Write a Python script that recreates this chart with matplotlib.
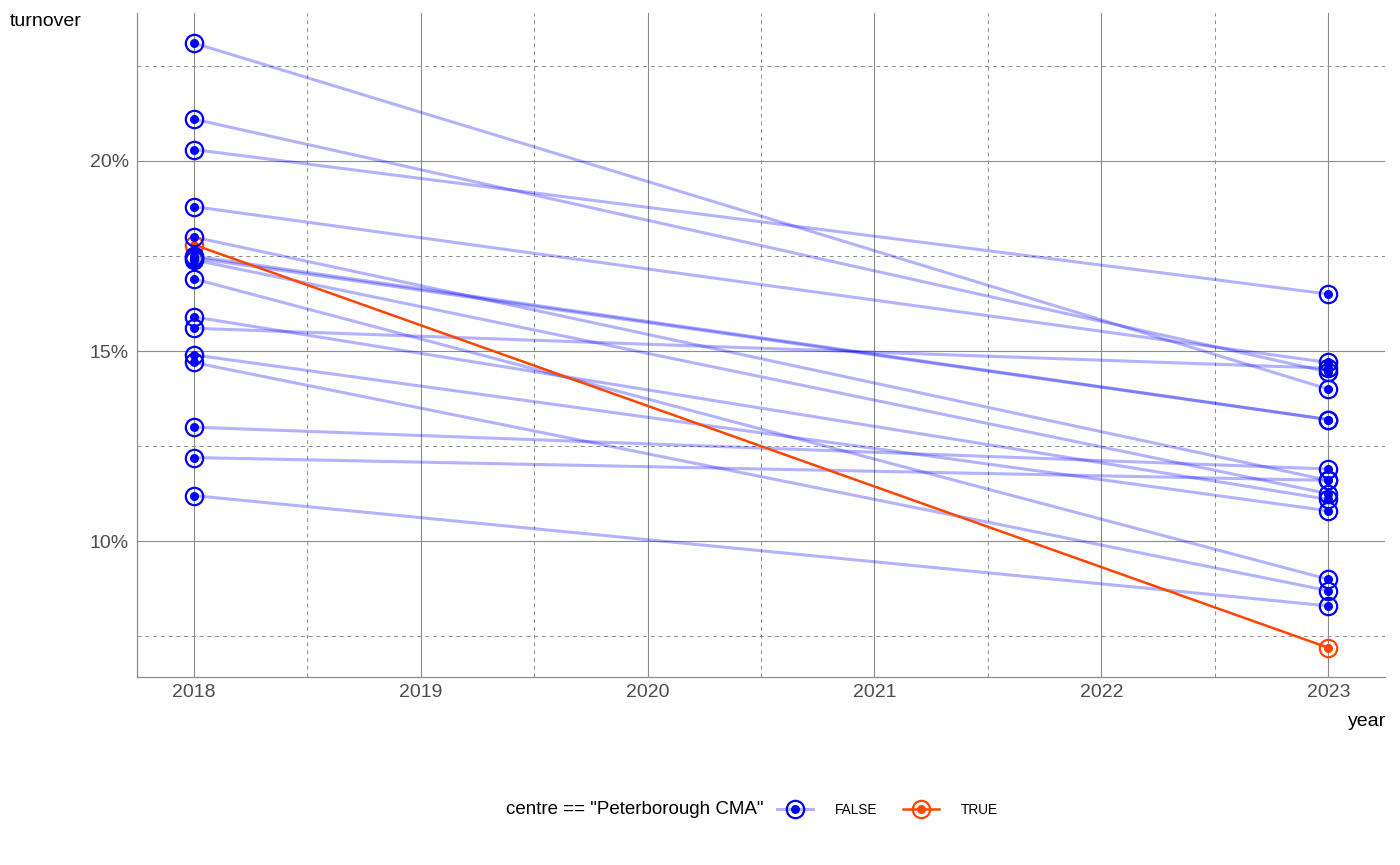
import matplotlib
matplotlib.use("Agg")
import matplotlib.pyplot as plt
from matplotlib.lines import Line2D
from matplotlib.ticker import FuncFormatter

plt.rcParams['font.family'] = ['Liberation Sans', 'DejaVu Sans']

# ---- data ----
years = [2018, 2023]
turnover_2018 = [23.1, 21.1, 20.3, 18.8, 18.0, 17.5, 17.45, 17.4, 16.9, 15.9, 15.6, 14.9, 14.7, 13.0, 12.2, 11.2]
turnover_2023 = [14.0, 14.45, 16.5, 14.7, 11.6, 13.2, 13.2, 11.25, 9.0, 11.1, 14.55, 10.8, 8.7, 11.9, 11.6, 8.3]
peterborough_2018 = 17.8
peterborough_2023 = 7.2
legend_title = 'centre == "Peterborough CMA"'
legend_labels = ['FALSE', 'TRUE']
y_major = [10, 15, 20]
y_minor = [7.5, 12.5, 17.5, 22.5]
x_major = [2018, 2019, 2020, 2021, 2022, 2023]
x_minor = [2018.5, 2019.5, 2020.5, 2021.5, 2022.5]

blue = '#0000FF'
red = '#FF4500'
grid_col = '#8C8C8C'
OUT_MS, OUT_MEW, IN_MS = 12.5, 1.6, 6.5

fig = plt.figure(figsize=(14, 8.65), dpi=100)
ax = fig.add_axes([137/1400, 1-677/865, (1385-137)/1400, (677-13)/865])

# grid
for v in y_major:
    ax.axhline(v, color=grid_col, lw=0.8, zorder=0)
for v in y_minor:
    ax.axhline(v, color=grid_col, lw=0.7, ls=(0, (4, 4)), zorder=0)
for v in x_major:
    ax.axvline(v, color=grid_col, lw=0.8, zorder=0)
for v in x_minor:
    ax.axvline(v, color=grid_col, lw=0.7, ls=(0, (4, 4)), zorder=0)

# lines
for a, b in zip(turnover_2018, turnover_2023):
    ax.plot(years, [a, b], color=blue, alpha=0.3, lw=2.2, solid_capstyle='butt', zorder=2)
ax.plot(years, [peterborough_2018, peterborough_2023], color=red, lw=1.8, zorder=3)

# markers
def pts(xs, ys, col, z):
    ax.plot(xs, ys, ls='none', marker='o', ms=OUT_MS, mfc='none', mec=col, mew=OUT_MEW, zorder=z)
    ax.plot(xs, ys, ls='none', marker='o', ms=IN_MS, mfc=col, mec=col, mew=0, zorder=z)

pts(years, [peterborough_2018, peterborough_2023], red, 4)
pts([2018]*len(turnover_2018), turnover_2018, blue, 5)
pts([2023]*len(turnover_2023), turnover_2023, blue, 5)

ax.set_xlim(2017.75, 2023.25)
ax.set_ylim(6.43, 23.89)
ax.set_yticks(y_major)
ax.set_xticks(x_major)
ax.yaxis.set_major_formatter(FuncFormatter(lambda v, p: f"{v:.0f}%"))
ax.tick_params(axis='both', length=0, labelsize=14, labelcolor='#4D4D4D')
ax.tick_params(axis='x', pad=5)
ax.tick_params(axis='y', pad=6)
for s in ['top', 'right']:
    ax.spines[s].set_visible(False)
for s in ['left', 'bottom']:
    ax.spines[s].set_color(grid_col)
    ax.spines[s].set_linewidth(0.9)

fig.text(10/1400, 1-21/865, 'turnover', fontsize=14, ha='left', va='center')
fig.text(1386/1400, 1-721/865, 'year', fontsize=14, ha='right', va='center')

# legend
fig.text(506/1400, 1-810/865, legend_title, fontsize=13.5, ha='left', va='center')
h_false = (Line2D([], [], color=blue, alpha=0.3, lw=2.2),
           Line2D([], [], ls='none', marker='o', ms=OUT_MS, mfc='none', mec=blue, mew=OUT_MEW),
           Line2D([], [], ls='none', marker='o', ms=IN_MS, mfc=blue, mec=blue, mew=0))
h_true = (Line2D([], [], color=red, lw=1.8),
          Line2D([], [], ls='none', marker='o', ms=OUT_MS, mfc='none', mec=red, mew=OUT_MEW),
          Line2D([], [], ls='none', marker='o', ms=IN_MS, mfc=red, mec=red, mew=0))
fig.legend([h_false, h_true], legend_labels, loc='center left',
           bbox_to_anchor=(777/1400, 1-810/865), ncol=2, frameon=False,
           fontsize=9.8, handlelength=2.65, handletextpad=1.6, columnspacing=1.9,
           borderpad=0, borderaxespad=0)

fig.savefig('out.png', dpi=100)
